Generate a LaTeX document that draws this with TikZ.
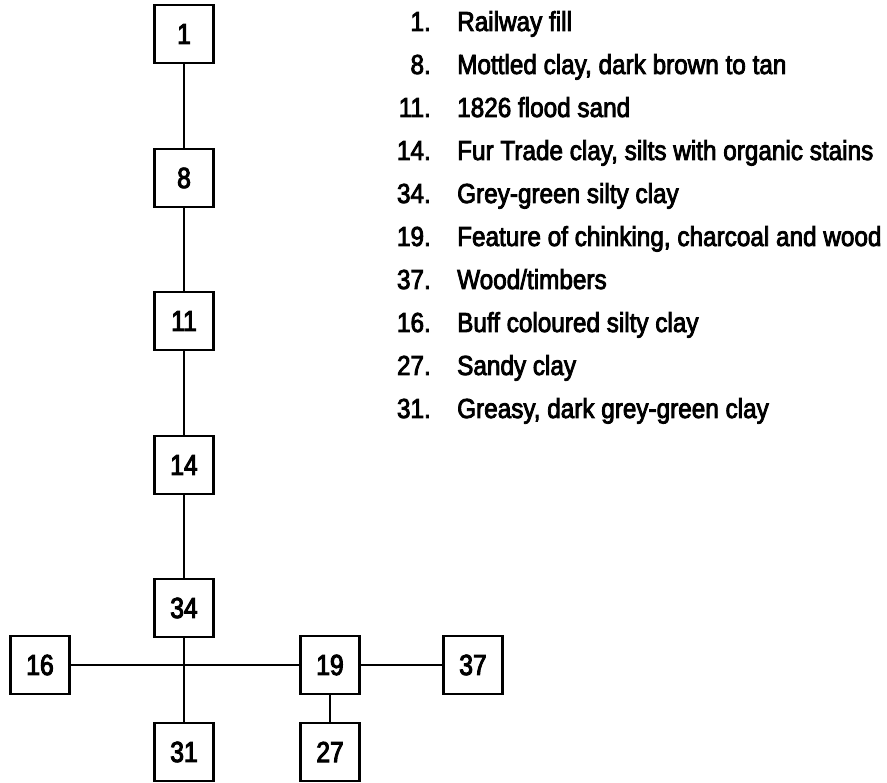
\documentclass[tikz,border=0pt]{standalone}
\usepackage{fontspec}
\setmainfont{Liberation Sans}
\newfontfamily\legendfont[FakeStretch=0.884,FakeBold=3]{Liberation Sans}
\newfontfamily\boxfont[FakeStretch=0.85,FakeBold=3.5]{Liberation Sans}
\begin{document}
\begin{tikzpicture}[x=1pt,y=-1pt,
  box/.style={draw, line width=2.6pt, minimum width=59pt, minimum height=58pt, inner sep=0pt, font=\boxfont\fontsize{29}{34}\selectfont},
  conn/.style={line width=2.4pt},
  num/.style={anchor=base east, inner sep=0pt, font=\legendfont\fontsize{27.5}{33}\selectfont},
  desc/.style={anchor=base west, inner sep=0pt, font=\legendfont\fontsize{27.5}{33}\selectfont}]
\useasboundingbox (0,0) rectangle (887,783);
% boxes
\node[box] (n1)  at (184,34)  {1};
\node[box] (n8)  at (184,178) {8};
\node[box] (n11) at (184,321) {11};
\node[box] (n14) at (184,465) {14};
\node[box] (n34) at (184,608) {34};
\node[box] (n16) at (40,665)  {16};
\node[box] (n19) at (330,665) {19};
\node[box] (n37) at (473,665) {37};
\node[box] (n31) at (184,752) {31};
\node[box] (n27) at (330,752) {27};
% connectors
\draw[conn] (n1) -- (n8);
\draw[conn] (n8) -- (n11);
\draw[conn] (n11) -- (n14);
\draw[conn] (n14) -- (n34);
\draw[conn] (n34) -- (n31);
\draw[conn] (n16) -- (n19);
\draw[conn] (n19) -- (n37);
\draw[conn] (n19) -- (n27);
% legend
\node[num] (m1)  at (431,31)  {1.};
\node[desc] (d1) at (457,31)  {Railway fill};
\node[num] (m2)  at (431,74)  {8.};
\node[desc] (d2) at (457,74)  {Mottled clay, dark brown to tan};
\node[num] (m3)  at (431,117) {11.};
\node[desc] (d3) at (457,117) {1826 flood sand};
\node[num] (m4)  at (431,160) {14.};
\node[desc] (d4) at (457,160) {Fur Trade clay, silts with organic stains};
\node[num] (m5)  at (431,203) {34.};
\node[desc] (d5) at (457,203) {Grey-green silty clay};
\node[num] (m6)  at (431,246) {19.};
\node[desc] (d6) at (457,246) {Feature of chinking, charcoal and wood};
\node[num] (m7)  at (431,289) {37.};
\node[desc] (d7) at (457,289) {Wood/timbers};
\node[num] (m8)  at (431,332) {16.};
\node[desc] (d8) at (457,332) {Buff coloured silty clay};
\node[num] (m9)  at (431,375) {27.};
\node[desc] (d9) at (457,375) {Sandy clay};
\node[num] (m10) at (431,418) {31.};
\node[desc] (d10) at (457,418) {Greasy, dark grey-green clay};
\end{tikzpicture}
\end{document}
